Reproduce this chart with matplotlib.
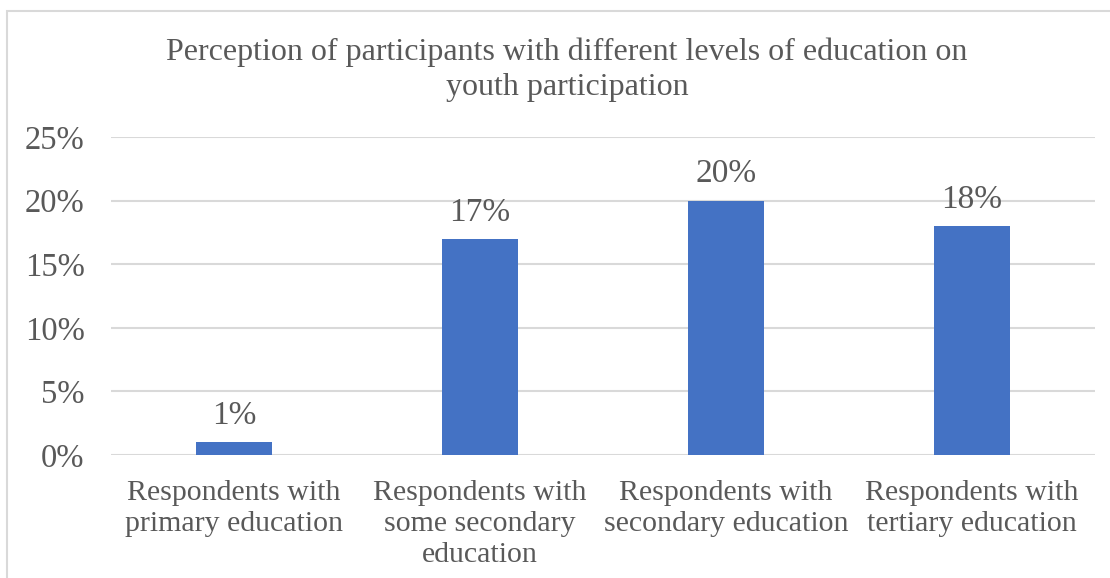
import matplotlib
matplotlib.use("Agg")
import matplotlib.pyplot as plt
from matplotlib.patches import Rectangle
from matplotlib.ticker import PercentFormatter, MultipleLocator

categories = ["Respondents with\nprimary education",
              "Respondents with\nsome secondary\neducation",
              "Respondents with\nsecondary education",
              "Respondents with\ntertiary education"]
values = [1, 17, 20, 18]
title = "Perception of participants with different levels of education on\nyouth participation"

plt.rcParams['font.family'] = ['Liberation Serif', 'DejaVu Serif']
txt = '#595959'
grid = '#d9d9d9'
bar_color = '#4472C4'

fig = plt.figure(figsize=(11.1, 5.78), dpi=100)
fig.patches.append(Rectangle((7/1110, -0.1), 1.2, 1 - 11/578 + 0.1, transform=fig.transFigure,
                             fill=False, edgecolor=grid, linewidth=1.5))
ax = fig.add_axes([111/1110, 1 - 455/578, 984/1110, (455 - 137)/578])

x = range(len(categories))
bars = ax.bar(x, values, width=0.313, color=bar_color, zorder=3)
ax.set_xlim(-0.5, len(categories) - 0.5)
ax.set_ylim(0, 25)
ax.yaxis.set_major_locator(MultipleLocator(5))
ax.yaxis.set_major_formatter(PercentFormatter(decimals=0))
ax.grid(axis='y', color=grid, linewidth=1.5, zorder=0)
for s in ax.spines.values():
    s.set_visible(False)
ax.tick_params(axis='y', length=0, labelsize=23.5, labelcolor=txt, pad=19)
ax.tick_params(axis='x', length=0, labelsize=21.5, labelcolor=txt, pad=18)
ax.set_xticks(list(x))
ax.set_xticklabels(categories, linespacing=1.25)

for xi, v in zip(x, values):
    ax.annotate(f"{v}%", (xi, v), xytext=(0, 8), textcoords='offset points',
                ha='center', va='bottom', fontsize=24, color=txt)

fig.text(567/1110, 1 - 70/578, title, ha='center', va='center', fontsize=23,
         color=txt, linespacing=1.27)

fig.savefig("out.png", dpi=100)
